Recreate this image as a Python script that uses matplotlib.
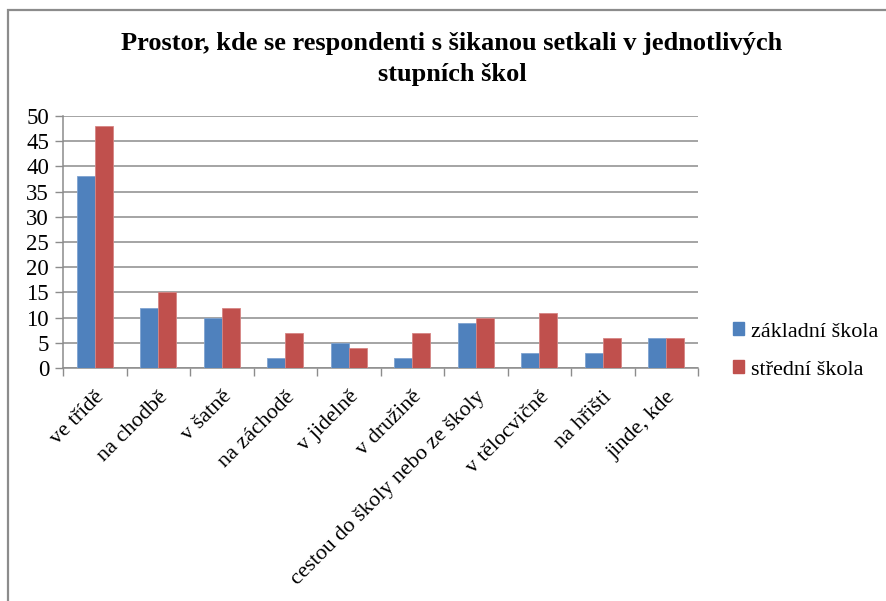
import matplotlib
matplotlib.use("Agg")
import matplotlib.pyplot as plt
import matplotlib.patches as mpatches
import numpy as np

categories = ["ve třídě", "na chodbě", "v šatně", "na záchodě", "v jidelně",
              "v družině", "cestou do školy nebo ze školy", "v tělocvičně",
              "na hřišti", "jinde, kde"]
zakladni = [38, 12, 10, 2, 5, 2, 9, 3, 3, 6]
stredni = [48, 15, 12, 7, 4, 7, 10, 11, 6, 6]
series_names = ["základní škola", "střední škola"]
yticks = [0, 5, 10, 15, 20, 25, 30, 35, 40, 45, 50]
title = "Prostor, kde se respondenti s šikanou setkali v jednotlivých\nstupních škol"

plt.rcParams['font.family'] = ['Liberation Serif', 'DejaVu Serif']

W, H = 886, 601
fig = plt.figure(figsize=(W / 100, H / 100), dpi=100)
ax = fig.add_axes([63 / W, 1 - 368 / H, (698 - 63) / W, (368 - 116) / H])

blue = "#4F81BD"
red = "#C0504D"
grid_c = "#8C8C8C"

x = np.arange(len(categories))
bw = 1 / 3.5
ax.bar(x - bw / 2, zakladni, width=bw, color=blue, edgecolor="#7FA3D0", linewidth=0.6, zorder=3)
ax.bar(x + bw / 2, stredni, width=bw, color=red, edgecolor="#D68584", linewidth=0.6, zorder=3)

ax.set_xlim(-0.5, len(categories) - 0.5)
ax.set_ylim(0, 50)
ax.set_yticks(yticks)
ax.set_yticklabels([str(v) for v in yticks], fontsize=16.5)
ax.yaxis.grid(True, color=grid_c, linewidth=1.1, zorder=0)
ax.set_axisbelow(True)

ax.set_xticks(np.arange(-0.5, len(categories), 1.0), minor=False)
ax.set_xticklabels([])
ax.tick_params(axis='x', which='major', length=6, color=grid_c, width=1)
ax.set_xticks(x, minor=True)
ax.set_xticklabels(categories, minor=True, rotation=45, ha='right',
                   rotation_mode='anchor', fontsize=16)
ax.tick_params(axis='x', which='minor', length=0, pad=14)
ax.tick_params(axis='y', length=6, color=grid_c, width=1, pad=4)

for s in ['top', 'right']:
    ax.spines[s].set_visible(False)
for s in ['left', 'bottom']:
    ax.spines[s].set_color(grid_c)
    ax.spines[s].set_linewidth(1.1)

fig.text(452 / W, 1 - 32 / H, title, ha='center', va='top', fontsize=19,
         fontweight='bold', linespacing=1.45)

handles = [mpatches.Patch(color=blue), mpatches.Patch(color=red)]
fig.legend(handles, series_names, loc='center left',
           bbox_to_anchor=(722 / W, 1 - 351 / H), frameon=False, fontsize=16,
           handlelength=0.5, handleheight=0.5, handletextpad=0.3,
           labelspacing=0.85, borderpad=0)

rect = mpatches.Rectangle((8 / W, -0.1), 1.2, 0.1 + (1 - 10 / H),
                          transform=fig.transFigure, fill=False,
                          edgecolor="#8C8C8C", linewidth=1.6)
fig.patches.append(rect)

fig.savefig("out.png", dpi=100)
